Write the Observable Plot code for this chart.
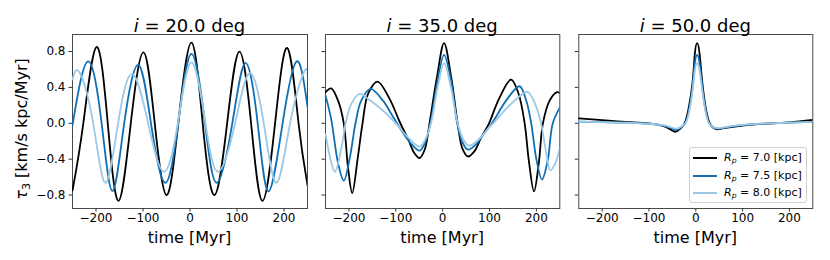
<!DOCTYPE html>
<html>
<head>
<meta charset="utf-8">
<script src="https://cdn.jsdelivr.net/npm/d3@7"></script>
<script src="https://cdn.jsdelivr.net/npm/@observablehq/plot@0.6"></script>
<style>
  body { margin: 0; background: #fff; font-family: "DejaVu Sans", sans-serif; }
  #wrap { position: relative; width: 830px; height: 260px; overflow: hidden; background: #fff; }
  .panel { position: absolute; top: 0; }
  .title { position: absolute; top: 16.5px; font-size: 18px; line-height: 1; transform: translateX(-50%); white-space: nowrap; color: #000; }
  .xlabel { position: absolute; top: 230px; font-size: 16px; line-height: 1; transform: translateX(-50%); white-space: nowrap; color: #000; }
  .ylabel { position: absolute; left: 22px; top: 129px; font-size: 16px; line-height: 1; transform: translate(-50%, -50%) rotate(-90deg); white-space: nowrap; color: #000; }
  sub { font-size: 70%; vertical-align: -0.25em; line-height: 0; }
  .legend { position: absolute; left: 689px; top: 147px; width: 118px; height: 56px; border: 1px solid #d0d0d0; border-radius: 3px; background: rgba(255,255,255,0.85); box-sizing: border-box; }
  .entry { position: absolute; left: 0; height: 14px; font-size: 11px; line-height: 14px; white-space: nowrap; }
  .sw { position: absolute; left: 3px; top: 6px; width: 24px; height: 2px; }
  .lt { position: absolute; left: 34px; top: 0; }
</style>
</head>
<body>
<div id="wrap"></div>
<script>
// ---------- data ----------
const panels = ["20.0", "35.0", "50.0"];
const radii = ["7.0", "7.5", "8.0"];
const colors = ["#000000", "#1170b4", "#9dc9e6"];
const xTicks = [-200, -100, 0, 100, 200];
const yTicks = [-0.8, -0.4, 0.0, 0.4, 0.8];

// i = 20 deg
const i20_r70_t = [-250,-227,-199,-175,-152,-126,-99,-75,-50,-25,3,27,52,79,105,130,154,181,207,231,250];
const i20_r70_v = [-0.75,0,0.85,0,-0.865,0,0.79,0,-0.80,0,0.90,0,-0.80,0,0.80,0,-0.865,0,0.84,0,-0.69];
const i20_r75_t = [-250,-217,-188,-165,-140,-110,-83,-53,-25,3,32,57,90,118,144,167,197,227,250];
const i20_r75_v = [-0.02,0.69,0,-0.756,0,0.652,0,-0.663,0,0.775,0,-0.663,0,0.67,0,-0.76,0,0.69,0.19];
const i20_r80_t = [-250,-235,-206,-180,-153,-123,-89,-56,-26,3,33,60,96,127,157,184,213,242,250];
const i20_r80_v = [0.49,0.566,0,-0.663,0,0.55,0,-0.54,0,0.68,0,-0.54,0,0.56,0,-0.663,0,0.566,0.55];

// i = 35 deg
const i35_r70_t = [-250,-238,-223,-211,-202,-193,-181,-171,-159,-139,-113,-92,-74,-60,-49,-38,-28,-12,3,18,32,42,54,68,82,99,120,146,162,175,184,195,205,214,228,243,250];
const i35_r70_v = [0.346,0.39,0.25,0,-0.49,-0.778,-0.38,0,0.33,0.465,0.27,0.02,-0.175,-0.335,-0.387,-0.29,0,0.52,0.894,0.52,0,-0.28,-0.37,-0.31,-0.16,0,0.27,0.488,0.33,0,-0.42,-0.76,-0.45,0,0.25,0.345,0.34];
const i35_r75_t = [-250,-238,-223,-211,-198,-186,-174,-154,-127,-106,-84,-67,-49,-38,-26,-11,3,18,31,42,54,70,88,110,135,164,178,189,200,212,224,235,250];
const i35_r75_v = [0.31,0.05,-0.45,-0.64,-0.38,0,0.25,0.383,0.25,0.074,-0.11,-0.23,-0.305,-0.22,0,0.47,0.763,0.47,0,-0.21,-0.294,-0.24,-0.12,0.04,0.25,0.413,0.26,0,-0.40,-0.626,-0.42,0,0.175];
const i35_r80_t = [-250,-230,-216,-207,-195,-177,-156,-127,-99,-74,-49,-37,-25,-10,3,17,32,44,56,75,100,108,130,155,181,197,210,220,230,240,250];
const i35_r80_v = [-0.12,-0.54,-0.27,0,0.216,0.327,0.26,0.14,-0.007,-0.156,-0.26,-0.18,0,0.42,0.67,0.42,0,-0.18,-0.25,-0.19,-0.04,0,0.13,0.26,0.35,0.22,0,-0.30,-0.525,-0.45,-0.28];

// i = 50 deg
const i50_r70_t = [-250,-200,-150,-100,-70,-55,-43,-33,-24,-16,-7,-2,3,8,14,22,30,38,46,60,100,150,200,250];
const i50_r70_v = [0.056,0.035,0.015,0.0,-0.03,-0.065,-0.094,-0.06,0.0,0.15,0.45,0.78,0.894,0.78,0.45,0.15,0.0,-0.05,-0.067,-0.055,-0.025,-0.005,0.01,0.037];
const i50_r75_t = [-250,-200,-150,-100,-70,-55,-42,-32,-23,-15,-7,-2,3,8,14,21,29,37,46,60,100,150,200,250];
const i50_r75_v = [0.018,0.012,0.008,-0.005,-0.025,-0.05,-0.075,-0.05,0.0,0.14,0.40,0.67,0.763,0.67,0.40,0.14,0.0,-0.045,-0.06,-0.05,-0.02,-0.003,0.008,0.015];
const i50_r80_t = [-250,-200,-150,-100,-70,-55,-42,-32,-22,-14,-7,-2,3,8,14,21,28,37,46,60,100,150,200,250];
const i50_r80_v = [0.018,0.012,0.008,-0.005,-0.02,-0.04,-0.06,-0.04,0.0,0.13,0.36,0.59,0.67,0.59,0.36,0.13,0.0,-0.04,-0.055,-0.045,-0.018,-0.003,0.008,0.015];

const series = [
  [[i20_r70_t, i20_r70_v], [i20_r75_t, i20_r75_v], [i20_r80_t, i20_r80_v]],
  [[i35_r70_t, i35_r70_v], [i35_r75_t, i35_r75_v], [i35_r80_t, i35_r80_v]],
  [[i50_r70_t, i50_r70_v], [i50_r75_t, i50_r75_v], [i50_r80_t, i50_r80_v]]
];
const curves = ["natural", "catmull-rom", "natural"];

// ---------- layout ----------
const layout = [
  {left: 0,   width: 318, ml: 72,  mr: 11},
  {left: 318, width: 252, ml: 7,   mr: 10.7},
  {left: 570, width: 260, ml: 8.3, mr: 17.7}
];
const minus = s => s.replace("-", "\u2212");
const wrap = document.getElementById("wrap");

panels.forEach((inc, p) => {
  const L = layout[p];
  const marks = [
    Plot.frame({stroke: "#4a4a4a", strokeWidth: 1}),
    Plot.axisX({ticks: xTicks, tickSize: 3.5, tickPadding: 1, label: null,
      tickFormat: d => minus(String(d)), stroke: "#333", fill: "#000"}),
    Plot.axisY({ticks: yTicks, tickSize: 3.5, tickPadding: 3.5, label: null,
      tickFormat: p === 0 ? (d => minus(d.toFixed(1))) : (() => ""), stroke: "#333", fill: "#000"})
  ];
  series[p].forEach(([ts, vs], k) => {
    const data = ts.map((t, j) => ({t, v: vs[j], r: radii[k]}));
    marks.push(Plot.line(data, {x: "t", y: "v", stroke: colors[k], strokeWidth: 1.8,
      curve: curves[p], clip: true}));
  });
  const svg = Plot.plot({
    width: L.width, height: 260,
    marginLeft: L.ml, marginRight: L.mr, marginTop: 34, marginBottom: 52,
    x: {domain: [-250, 250]},
    y: {domain: [-0.95, 0.99]},
    style: {fontFamily: "DejaVu Sans", fontSize: "12px", background: "transparent", overflow: "visible", color: "#000"},
    marks
  });
  svg.classList.add("panel");
  svg.style.left = L.left + "px";
  svg.style.position = "absolute";
  wrap.appendChild(svg);

  const cx = L.left + L.ml + (L.width - L.ml - L.mr) / 2;
  const title = document.createElement("div");
  title.className = "title";
  title.style.left = cx + "px";
  title.innerHTML = `<i>i</i> = ${inc} deg`;
  wrap.appendChild(title);

  const xl = document.createElement("div");
  xl.className = "xlabel";
  xl.style.left = cx + "px";
  xl.textContent = "time [Myr]";
  wrap.appendChild(xl);
});

const yl = document.createElement("div");
yl.className = "ylabel";
yl.innerHTML = "<i>\u03C4</i><sub>3</sub> [km/s kpc/Myr]";
wrap.appendChild(yl);

// legend
const leg = document.createElement("div");
leg.className = "legend";
radii.forEach((r, k) => {
  const e = document.createElement("div");
  e.className = "entry";
  e.style.top = (3 + k * 17.5) + "px";
  e.innerHTML = `<div class="sw" style="background:${colors[k]}"></div><div class="lt"><i>R</i><sub><i>p</i></sub> = ${r} [kpc]</div>`;
  leg.appendChild(e);
});
wrap.appendChild(leg);
</script>
</body>
</html>
